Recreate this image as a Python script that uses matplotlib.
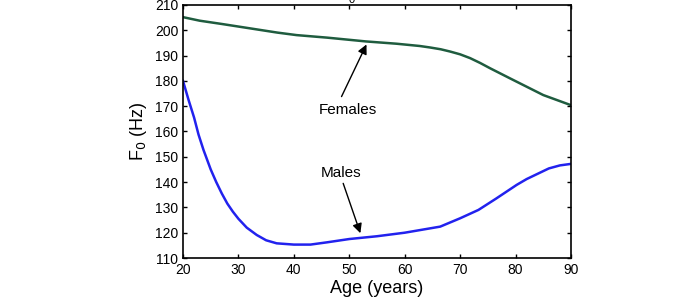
import numpy as np
import matplotlib
matplotlib.use("Agg")
from matplotlib import pyplot as plt

plt.rcParams['font.family'] = ['Liberation Sans', 'DejaVu Sans']

# values
female_age = [20, 23, 27, 32, 37, 40.5, 46, 53, 58.5, 62.7, 64.6, 66.5, 68.2, 70, 71.8, 73.6, 75.4, 79, 82, 85, 88, 90]
female_f0 = [205.2, 203.8, 202.5, 200.8, 199.1, 198.1, 197.1, 195.6, 194.7, 193.8, 193.2, 192.5, 191.6, 190.5,
             189.0, 187.1, 185.0, 181.0, 177.7, 174.4, 172.0, 170.4]

male_age = [20, 21, 22, 22.8, 23.7, 25, 26, 27, 28, 29, 30, 31.5, 33.3, 35, 36.9, 40, 43, 46, 50, 55, 60,
            66.4, 70, 73.3, 76.5, 80.2, 82, 86, 88, 90]
male_f0 = [180, 172.5, 165.5, 158.8, 152.7, 145, 140, 135.5, 131.5, 128.3, 125.5, 122, 119.1, 117, 115.8, 115.3,
           115.3, 116.2, 117.5, 118.6, 120.0, 122.4, 125.7, 129.0, 133.5, 138.9, 141.2, 145.4, 146.6, 147.2]

fig = plt.figure(figsize=(7, 3), dpi=100)
ax = fig.add_axes([183 / 700, 1 - 258 / 300, (571 - 183) / 700, (258 - 5) / 300])

ax.plot(female_age, female_f0, color='#1f5c3f', lw=1.8)
ax.plot(male_age, male_f0, color='#2222ee', lw=1.8)

ax.set_xlim(20, 90)
ax.set_ylim(110, 210)
ax.set_xticks(np.arange(20, 91, 10))
ax.set_yticks(np.arange(110, 211, 10))
ax.tick_params(direction='in', top=True, right=True, labelsize=10, length=3, width=1)
for s in ax.spines.values():
    s.set_linewidth(1.2)

ax.set_xlabel('Age (years)', fontsize=13, labelpad=2)
ax.set_ylabel('F$_0$ (Hz)', fontsize=13, labelpad=4)

arrow = dict(arrowstyle='-|>', color='black', lw=1, mutation_scale=14, shrinkA=0, shrinkB=0)
ax.text(49.8, 168.5, 'Females', ha='center', va='center', fontsize=11)
ax.annotate('', xy=(53.1, 194.4), xytext=(48.6, 173.8), arrowprops=arrow)
ax.text(48.6, 143.5, 'Males', ha='center', va='center', fontsize=11)
ax.annotate('', xy=(52.0, 119.8), xytext=(48.9, 139.5), arrowprops=arrow)

# clipped subscript of the cut-off title
fig.text(352 / 700, 1.0, '0', fontsize=8, ha='center', va='center')

fig.savefig('out.png', dpi=100)
